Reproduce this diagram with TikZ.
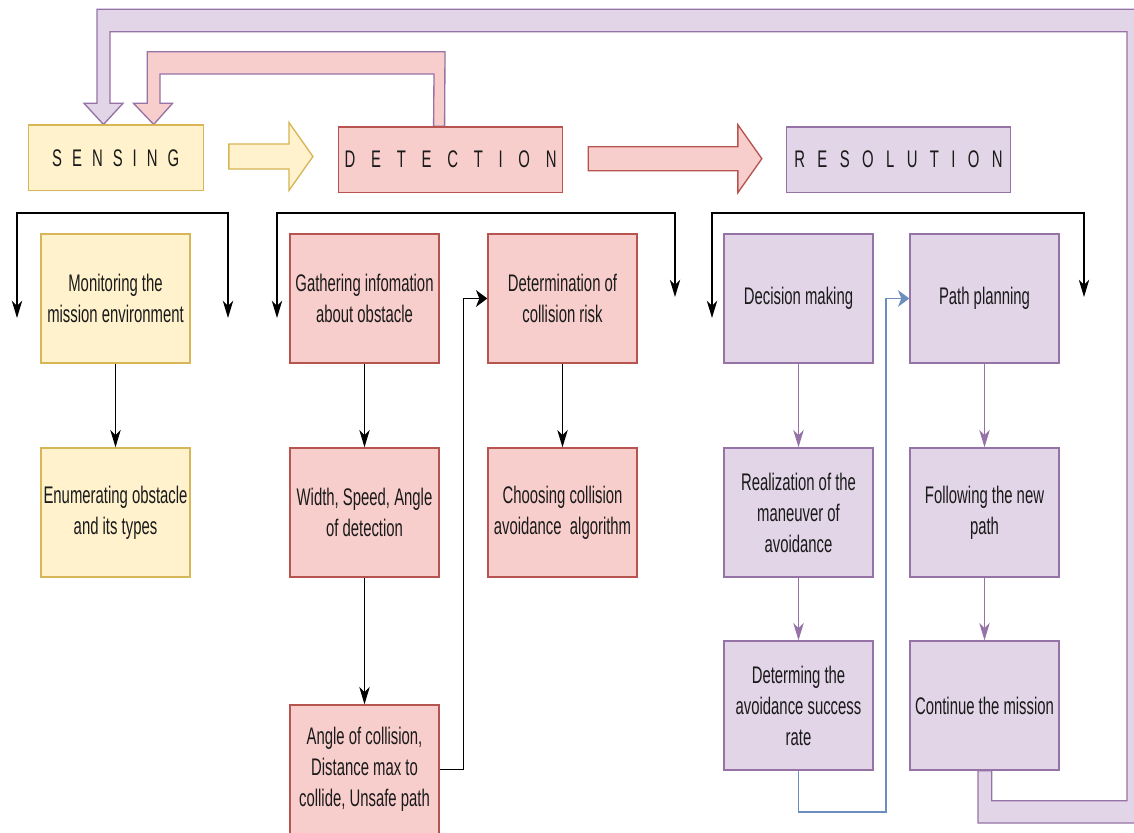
\documentclass[tikz,border=0pt]{standalone}
\usepackage{fontspec}
\usetikzlibrary{arrows.meta,calc,backgrounds}
\newfontfamily\condsans[FakeStretch=0.62]{Liberation Sans}

\definecolor{yfill}{HTML}{FFF2CC}
\definecolor{ydraw}{HTML}{D6B656}
\definecolor{rfill}{HTML}{F8CECC}
\definecolor{rdraw}{HTML}{B85450}
\definecolor{pfill}{HTML}{E1D5E7}
\definecolor{pdraw}{HTML}{9673A6}
\definecolor{bdraw}{HTML}{6C8EBF}
\definecolor{ink}{HTML}{1A1A1A}

% letter spacing used in the three stage titles
\newcommand\gapS{\hspace{7.5pt}}
\newcommand\gapD{\hspace{11.8pt}}
\newcommand\gapR{\hspace{9.3pt}}

\tikzset{
  x=0.75pt, y=-0.75pt,
  txt/.style={font=\condsans\fontsize{18pt}{23.25pt}\selectfont, text=ink, align=center},
  box/.style={txt, draw, line width=1pt, inner sep=0pt,
    minimum width=111.75pt, minimum height=96.75pt},
  title/.style={txt, draw, line width=1pt, inner sep=0pt, minimum height=49pt},
  ybox/.style={box, fill=yfill, draw=ydraw},
  rbox/.style={box, fill=rfill, draw=rdraw},
  pbox/.style={box, fill=pfill, draw=pdraw},
  varr/.style={line width=1pt, -{Stealth[length=13pt,width=7.8pt,inset=3.8pt]}},
  harr/.style={line width=1pt, -{Stealth[length=8.5pt,width=12.5pt,inset=2.5pt]}},
  block/.style={line width=1pt, line join=miter},
}

\begin{document}
\begin{tikzpicture}
\useasboundingbox (0,0) rectangle (1134,832);

% stage titles
\node[title, fill=yfill, draw=ydraw, minimum width=131.25pt] (sens) at (115.7,157.8)
  {S\gapS E\gapS N\gapS S\gapS I\gapS N\gapS G};
\node[title, fill=rfill, draw=rdraw, minimum width=168pt] (det) at (450.6,159.5)
  {D\gapD E\gapD T\gapD E\gapD C\gapD T\gapD I\gapD O\gapD N};
\node[title, fill=pfill, draw=pdraw, minimum width=168pt] (res) at (898.5,159.5)
  {R\gapR E\gapR S\gapR O\gapR L\gapR U\gapR T\gapR I\gapR O\gapR N};

% sensing column
\node[ybox] (mon) at (115.5,298.5) {Monitoring the\\mission environment};
\node[ybox] (enu) at (115.5,512.5) {Enumerating obstacle\\and its types};

% detection columns
\node[rbox] (gat) at (364.5,298.5) {Gathering infomation\\about obstacle};
\node[rbox] (wid) at (364.5,512.5) {Width, Speed, Angle\\of detection};
\node[rbox] (ang) at (364.5,769.5) {Angle of collision,\\Distance max to\\collide, Unsafe path};
\node[rbox] (drk) at (562.5,298.5) {Determination of\\collision risk};
\node[rbox] (cho) at (562.5,512.5) {Choosing collision\\avoidance\ \ algorithm};

% resolution columns
\node[pbox] (dec) at (798.5,298.5) {Decision making};
\node[pbox] (rea) at (798.5,512.5) {Realization of the\\maneuver of\\avoidance};
\node[pbox] (dtm) at (798.5,705.5) {Determing the\\avoidance success\\rate};
\node[pbox] (pat) at (984.5,298.5) {Path planning};
\node[pbox] (fol) at (984.5,512.5) {Following the new\\path};
\node[pbox] (con) at (984.5,705.5) {Continue the mission};

% branching brackets under each stage
\coordinate (sj) at (103,213);
\coordinate (sl) at (17,318);
\coordinate (sr) at (228,318);
\draw[varr] (sj) -| (sl);
\draw[varr] (sj) -| (sr);

\coordinate (dj) at (452,213);
\coordinate (dl) at (277,318);
\coordinate (dr) at (675,297);
\draw[varr] (dj) -| (dl);
\draw[varr] (dj) -| (dr);

\coordinate (rj) at (886,213);
\coordinate (rl) at (712,318);
\coordinate (rr) at (1084,297);
\draw[varr] (rj) -| (rl);
\draw[varr] (rj) -| (rr);

% flow inside the columns
\draw[varr] (mon) -- (enu);
\draw[varr] (gat) -- (wid);
\draw[varr] (wid) -- (ang);
\draw[harr] (ang.east) -- ++(24,0) |- (drk.west);
\draw[varr] (drk) -- (cho);
\draw[varr, draw=pdraw] (dec) -- (rea);
\draw[varr, draw=pdraw] (rea) -- (dtm);
\draw[varr, draw=pdraw] (pat) -- (fol);
\draw[varr, draw=pdraw] (fol) -- (con);
\coordinate (bl) at (886,812);
\draw[harr, draw=bdraw] (dtm.south) |- (bl) |- (pat.west);

% block arrows, kept behind the boxes
\begin{scope}[on background layer]
  \fill[white] (0,0) rectangle (1134,832);

  % sensing -> detection
  \coordinate (ya) at ($(sens.east)+(25,-1.3)$);
  \coordinate (yb) at ($(det.west)+(-25,-3)$);
  \filldraw[block, fill=yfill, draw=ydraw]
    ($(ya)+(0,-12.5)$) -- ($(yb)+(-24,-12.5)$) -- ($(yb)+(-24,-34)$) -- (yb)
    -- ($(yb)+(-24,34)$) -- ($(yb)+(-24,12.5)$) -- ($(ya)+(0,12.5)$) -- cycle;

  % detection -> resolution
  \coordinate (ra) at ($(det.east)+(25,-0.8)$);
  \coordinate (rb) at ($(res.west)+(-24,-0.8)$);
  \filldraw[block, fill=rfill, draw=rdraw]
    ($(ra)+(0,-12)$) -- ($(rb)+(-24,-12)$) -- ($(rb)+(-24,-34)$) -- (rb)
    -- ($(rb)+(-24,34)$) -- ($(rb)+(-24,12)$) -- ($(ra)+(0,12)$) -- cycle;

  % detection feeds back to sensing
  \filldraw[block, fill=rfill, draw=pdraw]
    ($(det.north)+(-6,0)$) -- (445,51.7) -- (147.3,51.7) -- (147.3,103.3)
    -- (133.5,103.3) -- ($(sens.north)+(38,0)$) -- (172.5,103.3) -- (160,103.3)
    -- (160,74) -- (434,74) -- ($(det.north)+(-17,0)$) -- cycle;

  % mission continues back to sensing
  \filldraw[block, fill=pfill, draw=pdraw]
    ($(con.south)+(-6.5,0)$) -- (978,823) -- (1141,823) -- (1141,9.3)
    -- (97,9.3) -- (97,103.3) -- (84,103.3) -- ($(sens.north)+(-12.2,0)$)
    -- (123,103.3) -- (110,103.3) -- (110,31.7) -- (1127,31.7) -- (1127,800.7)
    -- (991.7,800.7) -- ($(con.south)+(7.2,0)$) -- cycle;
\end{scope}
\end{tikzpicture}
\end{document}
